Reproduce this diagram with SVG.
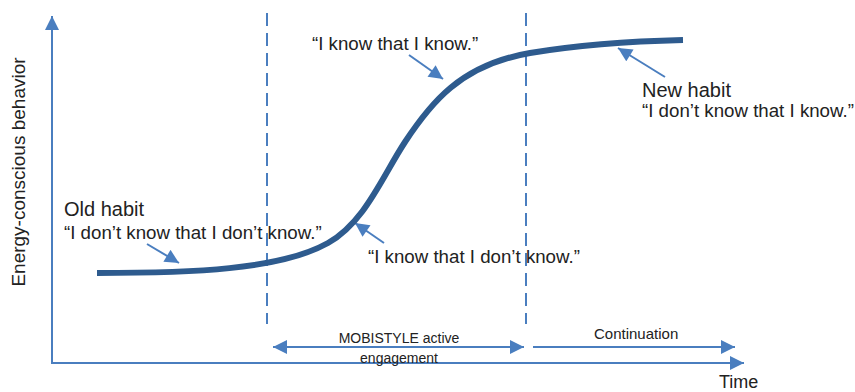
<svg xmlns="http://www.w3.org/2000/svg" width="855" height="392" viewBox="0 0 855 392">
<defs>
<style>
.ax{stroke:#4A7EBF;stroke-width:2;fill:none}
.dash{stroke:#4A7EBF;stroke-width:2;stroke-dasharray:13 7;fill:none}
.curve{stroke:#2E5B8E;stroke-width:6;fill:none;stroke-linecap:butt}
.ptr{stroke:#4A7EBF;stroke-width:2;fill:none}
.t{font-family:"Liberation Sans",Arial,sans-serif;fill:#222}
</style>
<marker id="ahs" markerWidth="16" markerHeight="14" refX="10" refY="5" orient="auto-start-reverse" markerUnits="userSpaceOnUse" viewBox="0 0 10 10">
<path d="M0,0 L10,5 L0,10 z" fill="#4A7EBF"/>
</marker>
</defs>
<rect width="855" height="392" fill="#fff"/>
<g id="connectors">
<path class="ax" d="M52,363 L52,16" marker-end="url(#ahs)"/>
<path class="ax" d="M51,363 L744,363" marker-end="url(#ahs)"/>
<path class="dash" d="M267,13 L267,324"/>
<path class="dash" d="M526,13 L526,324"/>
<path class="ax" d="M273,347 L524,347" marker-start="url(#ahs)" marker-end="url(#ahs)"/>
<path class="ax" d="M533,347 L735,347" marker-end="url(#ahs)"/>
<path class="ptr" d="M147,244 L179,263" marker-end="url(#ahs)"/>
<path class="ptr" d="M384,243 L355,223" marker-end="url(#ahs)"/>
<path class="ptr" d="M409,55 L443,79" marker-end="url(#ahs)"/>
<path class="ptr" d="M665,77 L618,48" marker-end="url(#ahs)"/>
</g>
<g id="curve">
<path class="curve" d="M97,273 C190,273 280,270 328,243 C365,222 382,177 405,142 C430,104 460,65 530,53 C590,43 640,41 683,40"/>
</g>
<g id="y-label"><text class="t" font-size="19" text-anchor="middle" transform="translate(25,172) rotate(-90)">Energy-conscious behavior</text></g>
<g id="x-label"><text class="t" font-size="18" x="719" y="388">Time</text></g>
<g id="old-habit">
<text class="t" font-size="20" x="64" y="216">Old habit</text>
<text class="t" font-size="18.7" x="64" y="239">“I don’t know that I don’t know.”</text>
</g>
<g id="know-dont"><text class="t" font-size="18.7" x="368" y="263">“I know that I don’t know.”</text></g>
<g id="know-know"><text class="t" font-size="18.7" x="312" y="50">“I know that I know.”</text></g>
<g id="new-habit">
<text class="t" font-size="20" x="642" y="97">New habit</text>
<text class="t" font-size="18.7" x="642" y="117">“I don’t know that I know.”</text>
</g>
<g id="mobistyle">
<text class="t" font-size="14" text-anchor="middle" x="399" y="343">MOBISTYLE active</text>
<text class="t" font-size="14" text-anchor="middle" x="399" y="363">engagement</text>
</g>
<g id="continuation"><text class="t" font-size="15" x="594" y="339">Continuation</text></g>
</svg>
